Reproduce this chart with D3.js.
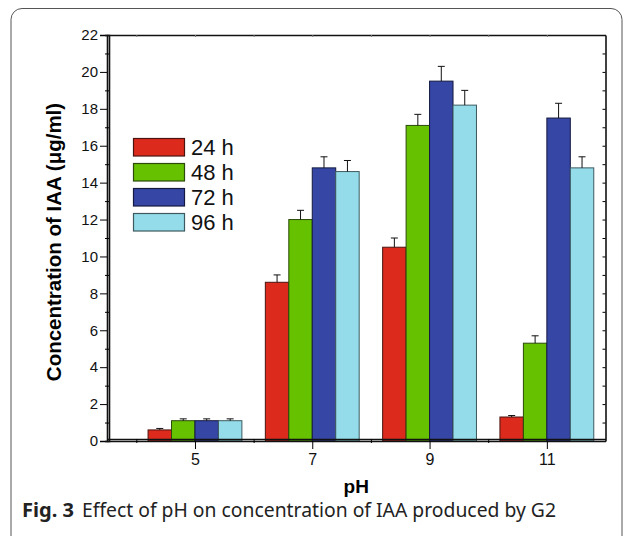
<!DOCTYPE html>
<html>
<head>
<meta charset="UTF-8">
<script src="https://d3js.org/d3.v7.min.js"></script>
<style>
  html, body { margin: 0; padding: 0; background: #fff; }
  svg { display: block; }
  .tick text { font-family: "Liberation Sans", Arial, sans-serif; fill: #111; }
  .yax .tick text { font-size: 15px; }
  .xax .tick text { font-size: 16px; }
</style>
</head>
<body>
<svg width="629" height="536"></svg>
<script>
const phLevels = [5, 7, 9, 11];
const series = ["24 h", "48 h", "72 h", "96 h"];
const colors = ["#dc2b1c", "#66c100", "#3646a4", "#94dce9"];
const strokes = ["#4a1410", "#2c4a0a", "#141a40", "#3e5a60"];
// mean IAA concentration per series, one value per pH level
const means = [
  [0.6, 8.6, 10.5, 1.3],
  [1.1, 12.0, 17.1, 5.3],
  [1.1, 14.8, 19.5, 17.5],
  [1.1, 14.6, 18.2, 14.8]
];
const errs = [
  [0.08, 0.4, 0.5, 0.08],
  [0.1, 0.5, 0.6, 0.4],
  [0.1, 0.6, 0.8, 0.8],
  [0.1, 0.6, 0.8, 0.6]
];
const yTicks = d3.range(0, 23, 2);

const svg = d3.select("svg");

// figure frame
svg.append("rect")
  .attr("x", 11).attr("y", 8.5)
  .attr("width", 611).attr("height", 540)
  .attr("rx", 11)
  .attr("fill", "none").attr("stroke", "#555").attr("stroke-width", 1);

const x = d3.scaleLinear().domain([3.5, 12]).range([107, 605.5]);
const y = d3.scaleLinear().domain([0, 22]).range([441, 35]);
const barW = 0.4;

const data = [];
series.forEach((s, si) => {
  phLevels.forEach((p, pi) => {
    data.push({ s: si, ph: p, v: means[si][pi], e: errs[si][pi] });
  });
});

const g = svg.append("g");

// bars
g.selectAll("rect.bar").data(data).enter().append("rect")
  .attr("class", "bar")
  .attr("x", d => x(d.ph - 0.8 + d.s * barW))
  .attr("width", d => x(barW) - x(0))
  .attr("y", d => y(d.v))
  .attr("height", d => y(0) - y(d.v))
  .attr("fill", d => colors[d.s])
  .attr("stroke", d => strokes[d.s])
  .attr("stroke-width", 1);

// error bars
const cx = d => x(d.ph - 0.8 + (d.s + 0.5) * barW);
g.selectAll("line.err").data(data).enter().append("line")
  .attr("x1", cx).attr("x2", cx)
  .attr("y1", d => y(d.v)).attr("y2", d => y(d.v + d.e))
  .attr("stroke", "#111").attr("stroke-width", 1);
g.selectAll("line.cap").data(data).enter().append("line")
  .attr("x1", d => cx(d) - 3.5).attr("x2", d => cx(d) + 3.5)
  .attr("y1", d => y(d.v + d.e)).attr("y2", d => y(d.v + d.e))
  .attr("stroke", "#111").attr("stroke-width", 1);

// axes
svg.append("g").attr("class", "yax").attr("transform", `translate(${x(3.5)},0)`)
  .call(d3.axisLeft(y).tickValues(yTicks).tickSize(7).tickPadding(2));
svg.append("g").attr("transform", `translate(${x(3.5) + 2},0)`)
  .call(d3.axisLeft(y).tickValues(d3.range(1, 22, 2)).tickSize(4).tickFormat(""));

svg.append("g").attr("class", "xax").attr("transform", `translate(0,${y(0)})`)
  .call(d3.axisBottom(x).tickValues(phLevels).tickSize(8).tickPadding(5).tickSizeOuter(0));
svg.append("g").attr("transform", `translate(0,${y(0) - 2})`)
  .call(d3.axisBottom(x).tickValues([4, 6, 8, 10]).tickSize(4).tickFormat("").tickSizeOuter(0));

svg.append("g").attr("transform", `translate(0,${y(22)})`)
  .call(d3.axisBottom(x).tickValues(d3.range(4, 12)).tickSize(2).tickFormat("").tickSizeOuter(0))
  .selectAll("line").attr("stroke", "#777");
svg.append("g").attr("transform", `translate(${x(12)},0)`)
  .call(d3.axisLeft(y).tickValues(d3.range(1, 22)).tickSize(3).tickFormat("").tickSizeOuter(0));

svg.selectAll(".domain").attr("stroke", "#111").attr("stroke-width", 1.6);

// axis titles
svg.append("text")
  .attr("transform", `translate(61,${(y(0) + y(22)) / 2 + 4}) rotate(-90)`)
  .attr("text-anchor", "middle")
  .style("font-family", "Liberation Sans, Arial, sans-serif")
  .style("font-weight", "bold").style("font-size", "20.5px")
  .text("Concentration of IAA (μg/ml)");
svg.append("text")
  .attr("x", (x(3.5) + x(12)) / 2).attr("y", 493)
  .attr("text-anchor", "middle")
  .style("font-family", "Liberation Sans, Arial, sans-serif")
  .style("font-weight", "bold").style("font-size", "19px")
  .text("pH");

// legend
const leg = svg.append("g").selectAll("g").data(series).enter().append("g")
  .attr("transform", (d, i) => `translate(133.5,${138.5 + i * 25})`);
leg.append("rect").attr("width", 51).attr("height", 17.5)
  .attr("fill", (d, i) => colors[i]).attr("stroke", (d, i) => strokes[i]).attr("stroke-width", 1.2);
leg.append("text").attr("x", 57.5).attr("y", 16.5)
  .style("font-family", "Liberation Sans, Arial, sans-serif").style("font-size", "22px")
  .attr("fill", "#111")
  .text(d => d);

// caption
const cap = svg.append("text").attr("x", 22).attr("y", 517)
  .style("font-family", "Noto Sans, sans-serif").style("font-size", "19px").attr("fill", "#222");
cap.append("tspan").style("font-weight", "bold").attr("textLength", 52).attr("lengthAdjust", "spacingAndGlyphs").text("Fig. 3");
cap.append("tspan").attr("x", 82).attr("textLength", 474).attr("lengthAdjust", "spacingAndGlyphs")
  .text("Effect of pH on concentration of IAA produced by G2");
</script>
</body>
</html>
